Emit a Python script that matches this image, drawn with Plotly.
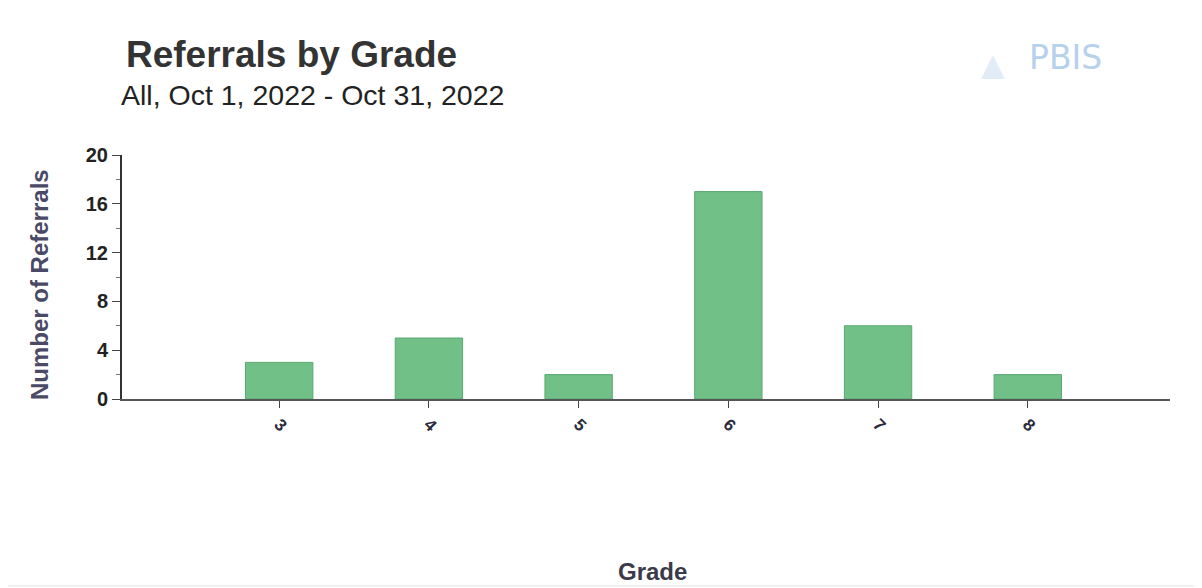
import plotly.graph_objects as go

grades = [3, 4, 5, 6, 7, 8]
grade_labels = ["3", "4", "5", "6", "7", "8"]
referrals = [3, 5, 2, 17, 6, 2]
y_ticks = [0, 4, 8, 12, 16, 20]

FONT = "Liberation Sans, Arial, sans-serif"

fig = go.Figure()
fig.add_trace(go.Bar(
    x=grades, y=referrals, width=0.45,
    marker=dict(color="#70c088", line=dict(color="#5aa872", width=1)),
    hoverinfo="x+y",
))

fig.update_layout(
    width=1194, height=580,
    margin=dict(l=114, r=32, t=147, b=189),
    paper_bgcolor="white", plot_bgcolor="white",
    font=dict(family=FONT, color="#333333"),
    showlegend=False,
)
fig.update_xaxes(
    range=[1.95, 8.95], tickmode="array", tickvals=grades,
    ticktext=["<b>%s</b>" % t for t in grade_labels],
    tickangle=45, ticks="outside", ticklen=7, tickcolor="#444", tickwidth=1,
    showline=True, linecolor="#555", linewidth=1.5, showgrid=False, zeroline=False,
    tickfont=dict(size=17, color="#2a2a3a", family=FONT),
)
fig.update_yaxes(
    range=[0, 20], tickmode="array", tickvals=y_ticks,
    ticktext=["<b>%d</b>" % v for v in y_ticks],
    ticks="outside", ticklen=8, tickcolor="#444", tickwidth=1,
    minor=dict(dtick=2, ticks="outside", ticklen=4, tickcolor="#777", showgrid=False),
    showline=True, linecolor="#333", linewidth=2, showgrid=False, zeroline=False,
    tickfont=dict(size=20, color="#222222", family=FONT),
)

fig.add_annotation(
    text="<b>Referrals by Grade</b>", xref="paper", yref="paper",
    x=0.002, y=1.41, xanchor="left", yanchor="middle", showarrow=False,
    font=dict(size=37, color="#333333", family=FONT),
)
fig.add_annotation(
    text="All, Oct 1, 2022 - Oct 31, 2022", xref="paper", yref="paper",
    x=-0.003, y=1.246, xanchor="left", yanchor="middle", showarrow=False,
    font=dict(size=28.5, color="#222222", family=FONT),
)
fig.add_annotation(
    text="<b>Number of Referrals</b>", xref="paper", yref="paper",
    x=-0.0792, y=0.471, xanchor="center", yanchor="middle", textangle=-90,
    showarrow=False, font=dict(size=24, color="#4a4a66", family=FONT),
)
fig.add_annotation(
    text="<b>Grade</b>", xref="paper", yref="paper",
    x=0.506, y=-0.705, xanchor="center", yanchor="middle",
    showarrow=False, font=dict(size=24, color="#3a3a4a", family=FONT),
)
fig.add_annotation(
    text="PBIS", xref="paper", yref="paper",
    x=0.864, y=1.398, xanchor="left", yanchor="middle", showarrow=False,
    font=dict(size=33, color="#b6d1ec", family="DejaVu Sans, sans-serif"),
)
fig.add_annotation(
    text="▲", xref="paper", yref="paper",
    x=0.81, y=1.37, xanchor="left", yanchor="middle", showarrow=False,
    font=dict(size=40, color="#e2ecf7", family=FONT),
)
fig.add_shape(
    type="line", xref="paper", yref="paper",
    x0=-0.12, x1=1.05, y0=-0.766, y1=-0.766,
    line=dict(color="#e4e4e4", width=1), layer="below",
)

fig.write_html("out.html")
